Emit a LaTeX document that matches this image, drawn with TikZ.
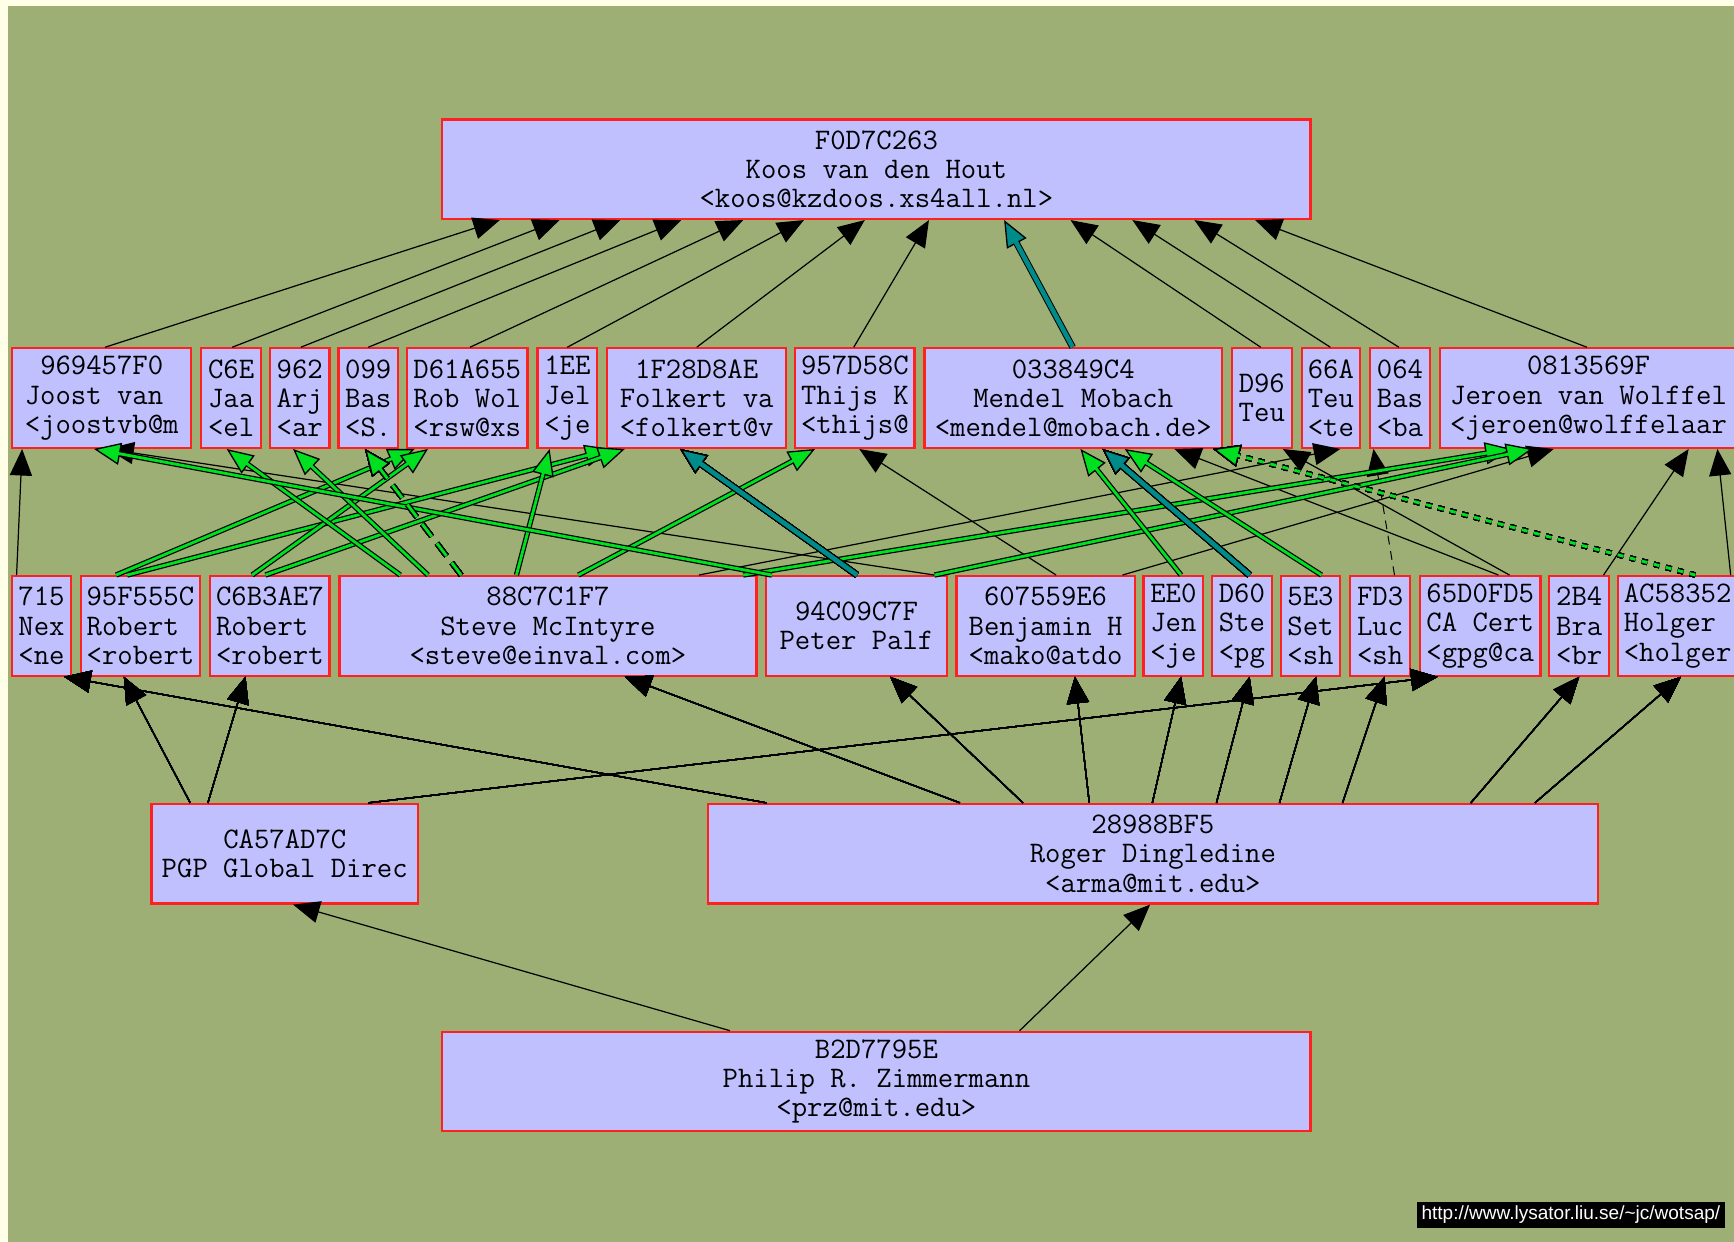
\documentclass[tikz,border=0pt]{standalone}
\usepackage{fontspec}
\newfontfamily\wmfont{Liberation Sans}
\usetikzlibrary{arrows.meta,calc}
\definecolor{bgout}{RGB}{255,255,232}
\definecolor{bggreen}{RGB}{158,175,117}
\definecolor{nodefill}{RGB}{192,192,255}
\definecolor{nodeborder}{RGB}{255,32,32}
\definecolor{sgreen}{RGB}{0,224,32}
\definecolor{steal}{RGB}{0,139,139}
\newcommand\kn[6]{%
  \pgfmathsetmacro\kcx{(#2+#3)/2}%
  \pgfmathsetmacro\kcy{(#4+#5)/2}%
  \pgfmathsetmacro\kw{(#3-#2)/2}%
  \pgfmathsetmacro\kh{(#5-#4)/2}%
  \node[kbox,minimum width=\kw pt,minimum height=\kh pt] (#1) at (\kcx,\kcy) {#6};}
\newcommand\gline[3][]{\draw[gout,#1] #2 -- #3; \draw[gin,#1] #2 -- #3;}
\newcommand\tline[3][]{\draw[tout,#1] #2 -- #3; \draw[tin,#1] #2 -- #3;}
\newcommand\kpad{\hphantom{x}}
\begin{document}
\begin{tikzpicture}[x=0.5pt,y=-0.5pt,
  kbox/.style={draw=nodeborder,fill=nodefill,line width=1pt,inner sep=0pt,align=center,
    font=\ttfamily\fontsize{13.5}{13.2}\selectfont,text=black},
  blk/.style={draw=black,line width=0.55pt,-{Triangle[length=12pt,width=10pt]}},
  gout/.style={draw=black,line width=2.4pt,-{Triangle[length=12pt,width=10pt,fill=sgreen,line width=0.6pt]}},
  gin/.style={draw=sgreen,line width=1.3pt,shorten >=11pt},
  tout/.style={draw=black,line width=3pt,-{Triangle[length=12pt,width=10pt,fill=steal,line width=0.6pt]}},
  tin/.style={draw=steal,line width=2.1pt,shorten >=11pt},
  gdash/.style={dash pattern=on 7pt off 4pt},
  gdot/.style={dash pattern=on 2.6pt off 3pt},
  tdash/.style={dash pattern=on 4pt off 3pt}]
\useasboundingbox (0,0) rectangle (1568,1123);
\fill[bgout] (0,0) rectangle (1568,1123);
\fill[bggreen] (7,5) rectangle (1568,1123);
% row 1
\kn{n0}{400}{1185}{108}{198}{F0D7C263\\Koos van den Hout\\<koos@kzdoos.xs4all.nl>}
% row 2
\kn{a1}{11}{173}{315}{405}{969457F0\\Joost van\kpad\\<joostvb@m}
\kn{a2}{182}{236}{315}{405}{C6E\\Jaa\\<el}
\kn{a3}{244}{298}{315}{405}{962\\Arj\\<ar}
\kn{a4}{306}{360}{315}{405}{099\\Bas\\<S.}
\kn{a5}{368}{477}{315}{405}{D61A655\\Rob Wol\\<rsw@xs}
\kn{a6}{486}{540}{315}{405}{1EE\\Jel\\<je}
\kn{a7}{549}{711}{315}{405}{1F28D8AE\\Folkert va\\<folkert@v}
\kn{a8}{719}{827}{315}{405}{957D58C\\Thijs K\\<thijs@}
\kn{a9}{836}{1105}{315}{405}{033849C4\\Mendel Mobach\\<mendel@mobach.de>}
\kn{a10}{1114}{1168}{315}{405}{D96\\Teu}
\kn{a11}{1177}{1230}{315}{405}{66A\\Teu\\<te}
\kn{a12}{1239}{1293}{315}{405}{064\\Bas\\<ba}
\kn{a13}{1302}{1571}{315}{405}{0813569F\\Jeroen van Wolffel\\<jeroen@wolffelaar}
% row 3
\kn{b1}{11}{64}{521}{611}{715\\Nex\\<ne}
\kn{b2}{73}{181}{521}{611}{95F555C\\Robert\kpad\\<robert}
\kn{b3}{190}{298}{521}{611}{C6B3AE7\\Robert\kpad\\<robert}
\kn{b4}{307}{684}{521}{611}{88C7C1F7\\Steve McIntyre\\<steve@einval.com>}
\kn{b5}{693}{856}{521}{611}{94C09C7F\\Peter Palf}
\kn{b6}{865}{1026}{521}{611}{607559E6\\Benjamin H\\<mako@atdo}
\kn{b7}{1034}{1088}{521}{611}{EE0\\Jen\\<je}
\kn{b8}{1096}{1150}{521}{611}{D60\\Ste\\<pg}
\kn{b9}{1158}{1212}{521}{611}{5E3\\Set\\<sh}
\kn{b10}{1221}{1275}{521}{611}{FD3\\Luc\\<sh}
\kn{b11}{1284}{1393}{521}{611}{65D0FD5\\CA Cert\\<gpg@ca}
\kn{b12}{1401}{1455}{521}{611}{2B4\\Bra\\<br}
\kn{b13}{1463}{1571}{521}{611}{AC58352\\Holger\kpad\\<holger}
% row 4
\kn{c1}{137}{378}{727}{817}{CA57AD7C\\PGP Global Direc}
\kn{c2}{640}{1445}{727}{817}{28988BF5\\Roger Dingledine\\<arma@mit.edu>}
% row 5
\kn{d1}{400}{1185}{933}{1023}{B2D7795E\\Philip R. Zimmermann\\<prz@mit.edu>}
% watermark
\node[fill=black,text=white,inner sep=0pt,minimum width=139.5pt,minimum height=11.5pt,
  font=\wmfont\fontsize{8.6}{10}\selectfont] (wm) at (1420.5,1098.5)
  {http://www.lysator.liu.se/\textasciitilde jc/wotsap/};
% edges row 2 -> row 1
\foreach \s/\sx/\tx in {a1/95/452,a2/210/506,a3/272/561,a4/333/616,a5/425/672,a6/513/727,
  a7/630/782,a8/772/840,a10/1140/968,a11/1203/1024,a12/1265/1080,a13/1435/1135}
  \draw[blk] (\s.north -| \sx,0) -- (n0.south -| \tx,0);
\tline{(a9.north -| 970,0)}{(n0.south -| 908,0)}
% edges row 3 -> row 2 (black)
\foreach \s/\sx/\t/\tx in {b1/15/a1/20,b5/845/a1/97,b6/955/a8/777,b6/1015/a13/1405,
  b4/632/a11/1212,b11/1355/a9/1062,b11/1365/a10/1160,b12/1450/a13/1527,b13/1565/a13/1553}
  \draw[blk] (\s.north -| \sx,0) -- (\t.south -| \tx,0);
\draw[blk,tdash,line width=0.45pt] (b10.north -| 1261,0) -- (a12.south -| 1242,0);
% green edges
\foreach \s/\sx/\t/\tx in {b2/105/a5/375,b2/115/a7/553,b3/228/a5/387,b3/240/a7/565,
  b4/362/a2/205,b4/387/a3/265,b4/467/a6/497,b4/523/a8/737,b4/672/a13/1367,b5/698/a1/85,
  b5/845/a13/1386,b7/1068/a9/977,b9/1195/a9/1017}
  \gline{(\s.north -| \sx,0)}{(\t.south -| \tx,0)}
\gline[gdash]{(b4.north -| 417,0)}{(a4.south -| 330,0)}
\gline[gdot]{(b13.north -| 1533,0)}{(a9.south -| 1097,0)}
% teal edges
\tline{(b5.north -| 775,0)}{(a7.south -| 615,0)}
\tline{(b8.north -| 1130,0)}{(a9.south -| 997,0)}
% row 4 -> row 3
\foreach \s/\sx/\t/\tx in {c1/172/b2/112,c1/188/b3/222,c1/333/b11/1300,c2/693/b1/58,
  c2/868/b4/565,c2/925/b5/805,c2/985/b6/972,c2/1042/b7/1068,c2/1100/b8/1130,
  c2/1157/b9/1190,c2/1214/b10/1252,c2/1330/b12/1428,c2/1388/b13/1520}
  \draw[blk] (\s.north -| \sx,0) -- (\t.south -| \tx,0);
% row 5 -> row 4
\draw[blk] (d1.north -| 660,0) -- (c1.south -| 265,0);
\draw[blk] (d1.north -| 922,0) -- (c2.south -| 1040,0);
\end{tikzpicture}
\end{document}
